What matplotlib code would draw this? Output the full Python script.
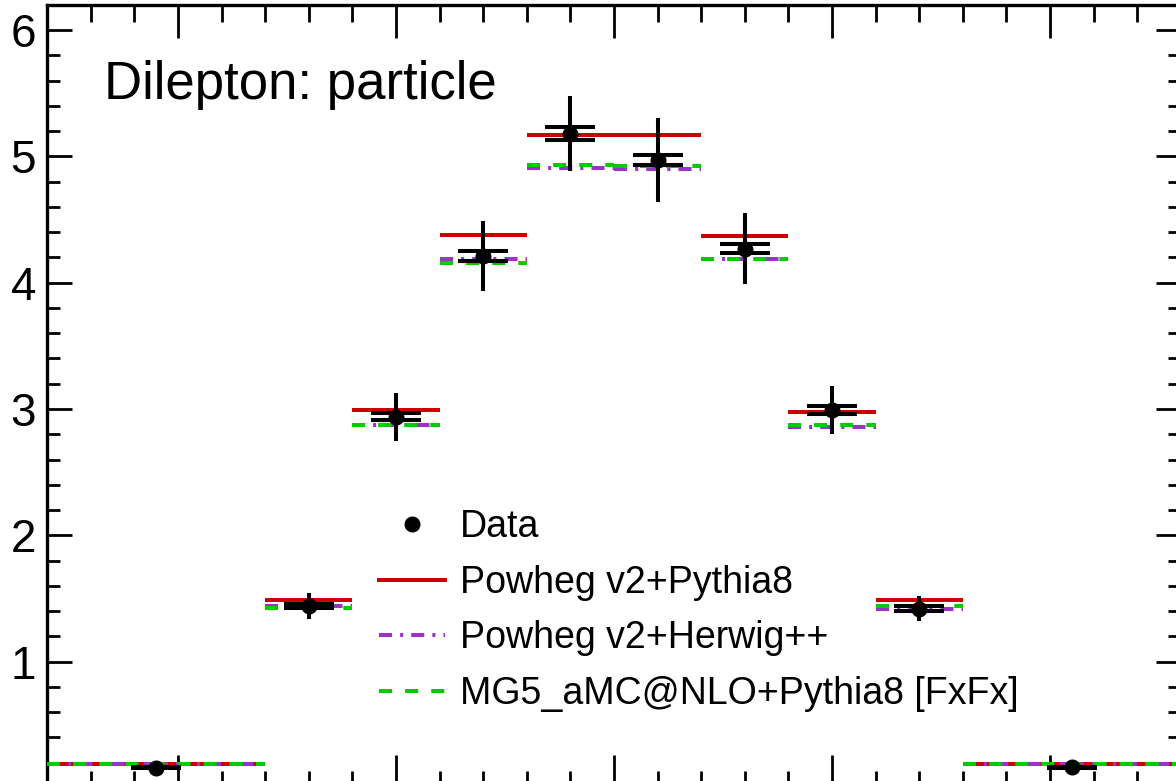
import numpy as np
import matplotlib
matplotlib.use("Agg")
import matplotlib.pyplot as plt
from matplotlib.lines import Line2D
from matplotlib.ticker import MultipleLocator, FuncFormatter

plt.rcParams['font.family'] = ['Liberation Sans', 'DejaVu Sans']
plt.rcParams['lines.scale_dashes'] = False

# Bin edges and values
bin_edges = [-2.6, -1.6, -1.2, -0.8, -0.4, 0.0, 0.4, 0.8, 1.2, 1.6, 2.6]
data_vals = [0.16, 1.44, 2.94, 4.21, 5.18, 4.97, 4.27, 2.99, 1.42, 0.165]
data_tot = [0.02, 0.10, 0.19, 0.28, 0.30, 0.33, 0.28, 0.19, 0.10, 0.02]
data_stat = [0.005, 0.015, 0.03, 0.04, 0.05, 0.04, 0.037, 0.03, 0.02, 0.005]

powheg_py8 = [0.186, 1.49, 2.99, 4.38, 5.17, 5.17, 4.37, 2.98, 1.49, 0.186]
powheg_hw = [0.186, 1.44, 2.87, 4.19, 4.905, 4.90, 4.19, 2.855, 1.42, 0.186]
mg5_fxfx = [0.186, 1.425, 2.875, 4.155, 4.935, 4.92, 4.19, 2.87, 1.44, 0.186]

labels = ["Data", "Powheg v2+Pythia8", "Powheg v2+Herwig++",
          "MG5_aMC@NLO+Pythia8 [FxFx]"]

red = "#cc0000"
purple = "#9933cc"
green = "#00cc00"
dash_hw = (0, (9.4, 5.8, 2.2, 5.8))
dash_mg = (0, (9.4, 9.4))

edges = np.array(bin_edges)
lo, hi = edges[:-1], edges[1:]
centers = 0.5 * (lo + hi)

fig = plt.figure(figsize=(11.76, 7.81), dpi=100)
ax = fig.add_axes([0.0401, -0.00896, 0.964, 1.00294])

lw = 2.9
ax.hlines(powheg_py8, lo, hi, colors=red, linewidth=lw, zorder=2)
ax.hlines(powheg_hw, lo, hi, colors=purple, linewidth=lw, linestyles=[dash_hw], zorder=3)
ax.hlines(mg5_fxfx, lo, hi, colors=green, linewidth=lw, linestyles=[dash_mg], zorder=4)

# data: total error vertical, stat error as two horizontal bars
dv = np.array(data_vals)
st = np.array(data_stat)
hw = 0.115
ax.errorbar(centers, dv, yerr=data_tot, fmt='none', ecolor='black',
            elinewidth=lw, capsize=0, zorder=5)
ax.hlines(dv + st, centers - hw, centers + hw, colors='black', linewidth=lw, zorder=5)
ax.hlines(dv - st, centers - hw, centers + hw, colors='black', linewidth=lw, zorder=5)
ax.plot(centers, dv, 'o', color='black', markersize=10.5, zorder=6)

ax.set_xlim(-2.6, 2.6)
ax.set_ylim(0, 6.2)

ax.xaxis.set_major_locator(MultipleLocator(1.0))
ax.xaxis.set_minor_locator(MultipleLocator(0.2))
ax.yaxis.set_major_locator(MultipleLocator(1.0))
ax.yaxis.set_minor_locator(MultipleLocator(0.2))
ax.yaxis.set_major_formatter(FuncFormatter(lambda v, p: "" if abs(v) < 1e-9 else f"{v:g}"))

ax.tick_params(axis='both', which='both', direction='in', top=True, right=True,
               width=2.0, labelbottom=False)
ax.tick_params(axis='y', which='major', length=18, labelsize=33, pad=8)
ax.tick_params(axis='y', which='minor', length=9.4)
ax.tick_params(axis='x', which='major', length=24)
ax.tick_params(axis='x', which='minor', length=12)
for sp in ax.spines.values():
    sp.set_linewidth(2.4)

ax.text(0.050, 0.879, "Dilepton: particle", transform=ax.transAxes,
        fontsize=38, ha='left', va='baseline')

handles = [
    Line2D([], [], marker='o', linestyle='none', color='black', markersize=10.5),
    Line2D([], [], color=red, linewidth=lw),
    Line2D([], [], color=purple, linewidth=lw, linestyle=dash_hw),
    Line2D([], [], color=green, linewidth=lw, linestyle=dash_mg),
]
ax.legend(handles, labels, loc='upper left', bbox_to_anchor=(0.2927, 0.356),
          frameon=False, fontsize=27, borderpad=0, borderaxespad=0,
          handlelength=1.76, handletextpad=0.4, labelspacing=0.52)

fig.savefig("out.png", dpi=100)
